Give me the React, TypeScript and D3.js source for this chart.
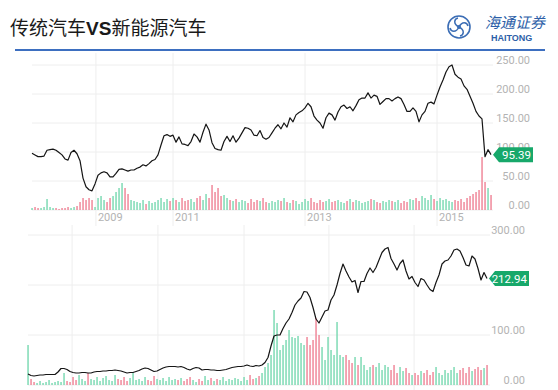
import React from 'react'
import * as d3 from 'd3'

// 传统汽车 (top) price, sampled every few days
const oldCarPrice = [
  98, 95, 92, 92, 93, 103, 104, 105, 103, 99, 95, 88, 86, 99, 103, 97, 85, 55, 40, 35,
  33, 45, 60, 64, 66, 64, 57, 57, 63, 70, 71, 69, 67, 69, 69, 72, 74, 78, 76, 80,
  85, 87, 95, 112, 128, 130, 127, 129, 117, 126, 114, 113, 111, 118, 131, 126, 117, 134, 148, 138,
  116, 106, 104, 103, 118, 127, 118, 128, 117, 124, 133, 142, 141, 138, 129, 128, 137, 125, 122, 125,
  133, 141, 147, 140, 150, 143, 159, 152, 164, 168, 171, 176, 184, 178, 162, 155, 150, 141, 159, 167,
  164, 155, 169, 178, 181, 175, 178, 171, 180, 190, 193, 193, 202, 193, 198, 196, 182, 187, 192, 192,
  188, 192, 195, 192, 182, 170, 170, 176, 170, 152, 164, 170, 184, 186, 183, 198, 212, 224, 238, 247,
  250, 234, 229, 226, 214, 208, 196, 184, 170, 162, 157, 92, 104, 95.39,
]
const oldCarVolume = [
  2, 3, 2, 2, 3, 11, 3, 2, 2, 1, 2, 2, 3, 2, 3, 4, 8, 12, 10, 12,
  10, 3, 12, 14, 10, 8, 12, 14, 18, 22, 27, 22, 16, 10, 9, 8, 7, 10, 6, 9,
  7, 8, 10, 12, 8, 11, 9, 12, 10, 8, 12, 9, 10, 11, 8, 12, 14, 10, 16, 12,
  25, 18, 22, 14, 15, 12, 10, 9, 11, 8, 10, 9, 7, 11, 8, 10, 9, 12, 8, 7,
  9, 8, 10, 9, 12, 8, 7, 10, 9, 6, 8, 11, 9, 12, 8, 7, 10, 8, 9, 11,
  8, 9, 10, 8, 7, 9, 11, 8, 10, 9, 7, 8, 9, 11, 10, 8, 7, 9, 8, 10,
  9, 8, 10, 7, 9, 8, 11, 10, 12, 9, 14, 12, 10, 15, 11, 9, 12, 10, 11, 9,
  8, 10, 9, 11, 8, 12, 14, 16, 18, 20, 53, 28, 22, 15,
]
const oldYearLabels = ['2009', '2011', '2013', '2015']
const oldYearIdx = [21.3, 47, 91, 135]
const oldGridTicks = [0, 50, 100, 150, 200, 250]
const oldLabelTicks = [0, 50, 100, 150, 200, 250]

// 新能源汽车 (bottom)
const evPrice = [
  22, 19, 18, 19, 20, 20, 21, 21, 21, 21, 26, 33, 33, 31, 27, 25, 24, 24, 25, 25,
  24, 24, 26, 27, 27, 28, 28, 29, 29, 30, 29, 28, 26, 24, 25, 25, 27, 29, 32, 34,
  33, 30, 27, 28, 31, 34, 36, 37, 37, 37, 36, 37, 35, 32, 30, 33, 35, 34, 30, 31,
  31, 30, 30, 29, 29, 30, 31, 33, 35, 36, 37, 37, 38, 40, 38, 37, 39, 38, 40, 45,
  55, 78, 98, 100, 100, 113, 124, 132, 145, 160, 168, 174, 187, 186, 175, 155, 132, 124, 136, 148,
  150, 170, 180, 200, 223, 242, 228, 216, 206, 209, 185, 207, 207, 223, 234, 225, 235, 250, 265, 272,
  275, 253, 242, 230, 243, 250, 228, 212, 217, 205, 197, 213, 210, 200, 191, 187, 205, 220, 242, 248,
  250, 258, 270, 272, 268, 255, 240, 238, 258, 252, 233, 210, 225, 212.94,
]
const evVolume = [
  40, 6, 3, 2, 4, 2, 3, 5, 2, 3, 4, 3, 12, 4, 3, 8, 5, 10, 6, 4,
  12, 6, 5, 8, 4, 7, 9, 5, 4, 10, 6, 5, 8, 4, 7, 12, 5, 6, 4, 8,
  5, 4, 9, 6, 5, 7, 4, 8, 5, 6, 5, 7, 4, 6, 8, 5, 3, 6, 4, 9,
  5, 7, 4, 6, 5, 8, 4, 6, 5, 7, 6, 4, 8, 5, 10, 6, 7, 9, 12, 18,
  22, 30, 75, 62, 35, 40, 45, 55, 48, 47, 49, 42, 40, 48, 40, 45, 67, 50, 38, 25,
  48, 35, 30, 63, 30, 28, 30, 25, 22, 28, 20, 28, 20, 15, 18, 20, 18, 22, 15, 20,
  18, 15, 20, 12, 18, 14, 17, 12, 10, 12, 10, 14, 12, 15, 10, 13, 18, 12, 10, 15,
  12, 15, 18, 12, 15, 17, 12, 18, 14, 16, 18, 15, 17, 20,
]
const evYearIdx = [14.7, 43.3, 72, 100.3, 128.7]
const evGridTicks = [0, 100, 200, 300]
const evLabelTicks = [0, 100, 300]

const GREEN = '#7ad8b2'
const PINK = '#ee8596'
const TAG = '#17a86a'
const GRID = '#eeeeee'
const LABEL = '#b3b3b3'
const FONT = 'Roboto, "Noto Sans", sans-serif'

function Tag({ x, y, text }: { x: number; y: number; text: string }) {
  const h = 15, w = 34
  const d = `M${x},${y} L${x + 6},${y - h / 2} L${x + 6 + w},${y - h / 2} L${x + 6 + w},${y + h / 2} L${x + 6},${y + h / 2} Z`
  return (
    <g>
      <path d={d} fill={TAG} />
      <text x={x + 4 + w} y={y + 4} textAnchor="end" fill="#fff" fontSize={11.5} fontFamily={FONT}>{text}</text>
    </g>
  )
}

function PriceVolume(props: {
  price: number[]; volume: number[]; left: number; right: number
  yDomain: [number, number]; yRange: [number, number]; ticks: number[]; labels: number[]
  volH: number; yearIdx: number[]; yearLabels?: string[]
  gridTop: number; gridBottom: number; labelX: number; gridRight: number
}) {
  const { price, volume, left, right, ticks, yearIdx, yearLabels } = props
  const x = d3.scaleLinear().domain([0, price.length - 1]).range([left, right])
  const y = d3.scaleLinear().domain(props.yDomain).range(props.yRange)
  const base = props.yRange[0]
  const yv = d3.scaleLinear().domain([0, 100]).range([0, props.volH])
  const line = d3.line<number>().x((_, i) => x(i)).y(d => y(d))
  const last = price[price.length - 1]
  return (
    <g>
      {ticks.map(t => (
        <line key={'h' + t} x1={left} x2={props.gridRight} y1={y(t)} y2={y(t)} stroke={GRID} />
      ))}
      {yearIdx.map((k, i) => (
        <g key={'v' + i}>
          <line x1={x(k)} x2={x(k)} y1={props.gridTop} y2={props.gridBottom} stroke={GRID} />
          {yearLabels && (
            <text x={x(k) + 2} y={base + 11} fill={LABEL} fontSize={11} fontFamily={FONT}>{yearLabels[i]}</text>
          )}
        </g>
      ))}
      {volume.map((v, i) => {
        const up = i === 0 || price[i] >= price[i - 1]
        return (
          <rect key={'b' + i} x={x(i) - 0.8} width={1.7} y={base - yv(v)} height={yv(v)}
            fill={up ? GREEN : PINK} opacity={0.85} />
        )
      })}
      <path d={line(price) || ''} fill="none" stroke="#151515" strokeWidth={1.2} strokeLinejoin="round" />
      {props.labels.map(t => (
        <text key={'l' + t} x={props.labelX} y={y(t) - 1} textAnchor="end" fill={LABEL}
          fontSize={11} fontFamily={FONT}>{t.toFixed(2)}</text>
      ))}
      <Tag x={x(price.length - 1) + 2} y={y(last)} text={last.toFixed(2)} />
    </g>
  )
}

function Logo() {
  const cx = 459, cy = 27, r = 11
  const blue = '#3b6db5'
  const arms = [0, 90, 180, 270]
  return (
    <g>
      <circle cx={cx} cy={cy} r={r} fill="none" stroke={blue} strokeWidth={1.6} />
      {arms.map(a => (
        <path key={a} transform={`rotate(${a} ${cx} ${cy})`}
          d={`M${cx},${cy} C${cx + 3},${cy - 6} ${cx + 8},${cy - 5} ${cx + 9},${cy - 1}`}
          fill="none" stroke={blue} strokeWidth={1.5} />
      ))}
      <circle cx={cx} cy={cy} r={2} fill={blue} />
      <g transform="translate(485 28) skewX(-14)">
        <text x={0} y={0} fontSize={15} fill="#2d5fa8"
          fontFamily='"Noto Sans CJK SC", sans-serif'>海通证券</text>
      </g>
      <text x={491} y={41} fontSize={9} fontWeight="bold" fill="#2d5fa8"
        fontFamily='"Liberation Sans", Arial, sans-serif'>HAITONG</text>
    </g>
  )
}

export default function App() {
  return (
    <svg width={558} height={390} style={{ position: 'fixed', left: 0, top: 0, background: '#fff' }}>
      <rect width={558} height={390} fill="#fff" />
      <text x={10} y={35} fontSize={19} fill="#1a1a1a" fontFamily='"Noto Sans CJK SC", sans-serif'>
        传统汽车<tspan fontWeight="bold" fontFamily='"Liberation Sans", Arial, sans-serif'>VS</tspan>新能源汽车
      </text>
      <Logo />
      <line x1={15} x2={545} y1={50} y2={50} stroke="#3d6fc0" strokeWidth={2} />

      <PriceVolume price={oldCarPrice} volume={oldCarVolume} left={32} right={491}
        yDomain={[0, 250]} yRange={[210, 65]} ticks={oldGridTicks} labels={oldLabelTicks} volH={100}
        yearIdx={oldYearIdx} yearLabels={oldYearLabels} gridTop={53} gridBottom={226}
        labelX={530} gridRight={493} />

      <PriceVolume price={evPrice} volume={evVolume} left={28} right={487}
        yDomain={[0, 300]} yRange={[385, 235]} ticks={evGridTicks} labels={evLabelTicks} volH={100}
        yearIdx={evYearIdx} gridTop={225} gridBottom={390}
        labelX={525} gridRight={490} />
    </svg>
  )
}
